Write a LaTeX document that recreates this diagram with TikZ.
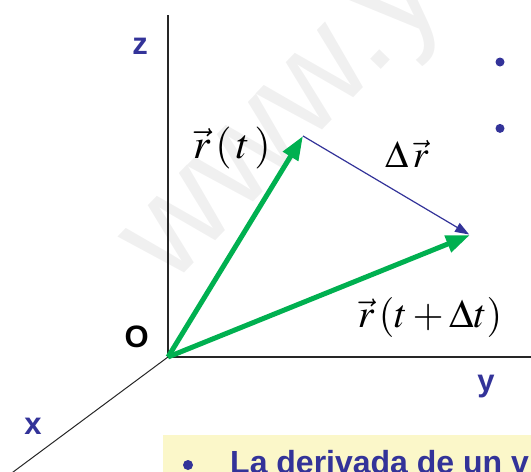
\documentclass[tikz,border=0pt]{standalone}
\usepackage{mathptmx}
\usepackage[no-math]{fontspec}
\setsansfont{Liberation Sans}
\usepackage{tikz}
\usetikzlibrary{positioning, arrows.meta}
\usepackage{xcolor}

\definecolor{labblue}{RGB}{51,51,153}
\definecolor{vecgreen}{RGB}{0,176,80}
\definecolor{noteyellow}{RGB}{251,247,201}
\definecolor{markgray}{RGB}{240,240,240}

\begin{document}
\begin{tikzpicture}[
    x=1pt, y=-1pt,
    axis/.style={draw=black!85, line width=1.1pt},
    axlabel/.style={inner sep=0pt, text=labblue, font=\sffamily\bfseries\fontsize{31}{31}\selectfont},
    veclabel/.style={inner sep=0pt, font=\fontsize{42}{42}\selectfont},
    posvec/.style={draw=vecgreen, line width=5pt, -{Triangle[length=24pt, width=17pt]}},
    dispvec/.style={draw=labblue, line width=1.2pt, -{Triangle[length=14pt, width=10pt]}},
    bullet/.style={circle, fill=labblue, inner sep=0pt, minimum size=9pt},
]
\useasboundingbox (0,0) rectangle (531,472);
\clip (0,0) rectangle (531,472);

% watermark
\node[anchor=base west, rotate=46, inner sep=0pt, text=markgray,
      font=\sffamily\fontsize{138}{138}\selectfont] (mark) at (170,288) {www.y};

% axes
\coordinate (O) at (168,357);
\coordinate (zend) at (168,15);
\coordinate (yend) at (540,357);
\coordinate (xend) at (5,478);
\draw[axis] (O) -- (zend);
\draw[axis] (O) -- (yend);
\draw[axis, line width=1pt] (O) -- (xend);

\node[axlabel] (zlab) at (140,46) {z};
\node[axlabel] (ylab) at (486,387) {y};
\node[axlabel] (xlab) at (33,426) {x};
\node[axlabel, text=black, above left=9pt and 19pt of O] (olab) {O};

% position vectors
\coordinate (P1) at (303,136);
\coordinate (P2) at (470,235);
\draw[posvec] (O) -- (P1);
\draw[posvec] (O) -- (P2);
\draw[dispvec, shorten >=1pt] (P1) -- (P2);

\node[veclabel] (rt) at (232,148) {$\vec{r}\,(\,t\,)$};
\node[veclabel, font=\fontsize{38}{38}\selectfont] (dr) at (407,154) {$\Delta\,\vec{r}$};
\node[veclabel, font=\fontsize{40}{40}\selectfont] (rtdt) at (430,317) {$\vec{r}\,(t+\Delta t)$};

% list bullets on the right
\node[bullet] (b1) at (500,62) {};
\node[bullet, below=57pt of b1] (b2) {};

% note box at the bottom
\fill[noteyellow] (163,435) rectangle (540,480);
\node[bullet, minimum size=10pt] (b3) at (188,465) {};
\node[anchor=base west, inner sep=0pt, text=labblue,
      font=\sffamily\bfseries\fontsize{32}{32}\selectfont] (note) at (230,473) {La derivada de un v};
\end{tikzpicture}
\end{document}
